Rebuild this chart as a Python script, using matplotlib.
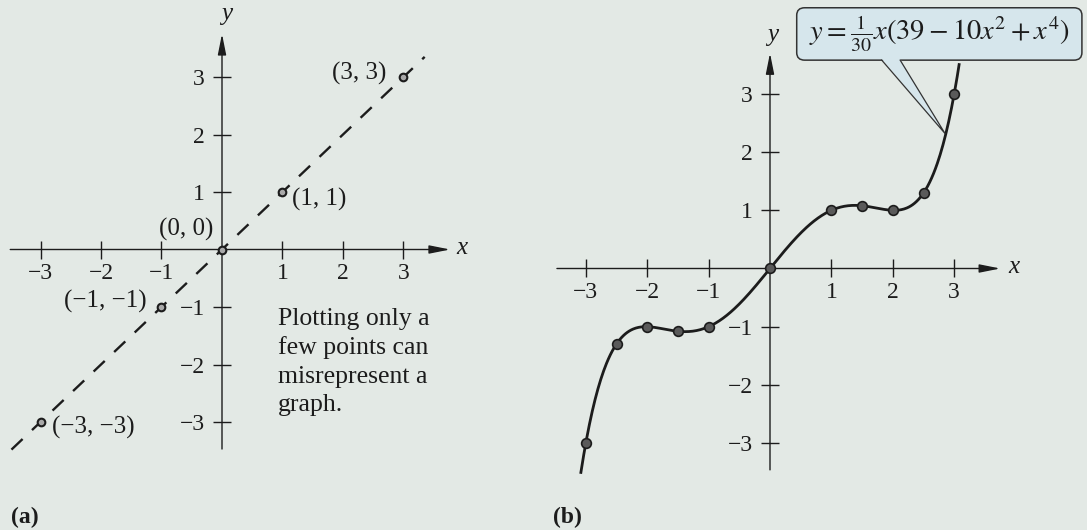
import matplotlib.pyplot as plt
from matplotlib.patches import FancyBboxPatch, Polygon
import numpy as np

# (a) a few isolated points joined by a dashed guess y = x
pts_a_x = [-3, -1, 0, 1, 3]
pts_a_y = [-3, -1, 0, 1, 3]
labels_a = ["(−3, −3)", "(−1, −1)", "(0, 0)", "(1, 1)", "(3, 3)"]
line_a = [-3.48, 3.35]

# (b) more points on y = x(39 - 10x^2 + x^4)/30
pts_b_x = [-3, -2.5, -2, -1.5, -1, 0, 1, 1.5, 2, 2.5, 3]
pts_b_y = [-3, -1.3, -1, -1.08, -1, 0, 1, 1.08, 1, 1.3, 3]
curve_b_span = [-3.08, 3.08]

ticks = [-3, -2, -1, 1, 2, 3]

paper = "#e3e9e5"
ink = "#1c1c1c"
box_blue = "#d6e6ec"

plt.rcParams["font.family"] = "Liberation Serif"
plt.rcParams["mathtext.fontset"] = "stix"

W, H = 1087, 530
fig = plt.figure(figsize=(W / 100, H / 100), dpi=100)
fig.patch.set_facecolor(paper)


def place_axes(ox, oy, ux, uy, xlim, ylim):
    # put the axes so that the origin sits at pixel (ox, oy) from top-left
    left = (ox + xlim[0] * ux) / W
    width = (xlim[1] - xlim[0]) * ux / W
    bottom = (H - oy + ylim[0] * uy) / H
    height = (ylim[1] - ylim[0]) * uy / H
    ax = fig.add_axes([left, bottom, width, height])
    ax.set_xlim(xlim)
    ax.set_ylim(ylim)
    return ax


def draw_axes(ax, x_span, y_span, x_lab, y_lab):
    ax.patch.set_visible(False)
    for s in ax.spines.values():
        s.set_visible(False)
    ax.spines["left"].set_position(("data", 0))
    ax.spines["bottom"].set_position(("data", 0))
    ax.set_xticks(ticks)
    ax.set_yticks(ticks)
    ax.tick_params(direction="inout", length=13, width=1.0, color=ink,
                   labelcolor=ink, labelsize=17)
    ax.tick_params(axis="x", pad=3.5)
    ax.tick_params(axis="y", pad=6)
    arrow = dict(arrowstyle="-|>,head_length=0.9,head_width=0.18", lw=1.0,
                 color=ink, shrinkA=0, shrinkB=0, mutation_scale=14)
    ax.annotate("", xy=(x_span[1], 0), xytext=(x_span[0], 0),
                arrowprops=arrow, annotation_clip=False)
    ax.annotate("", xy=(0, y_span[1]), xytext=(0, y_span[0]),
                arrowprops=arrow, annotation_clip=False)
    ax.text(x_lab[0], x_lab[1], "x", fontsize=18, style="italic", color=ink,
            ha="center", va="center")
    ax.text(y_lab[0], y_lab[1], "y", fontsize=18, style="italic", color=ink,
            ha="center", va="center")


# ---- (a)
ax_a = place_axes(222, 249.5, 60.5, 57.5, (-3.6, 4.3), (-4.6, 4.3))
draw_axes(ax_a, (-3.5, 3.77), (-3.47, 3.75), (3.96, 0.02), (0.08, 4.1))

ax_a.plot(line_a, line_a, color=ink, lw=1.7, dashes=(6.5, 5.5), zorder=3)
ax_a.plot(pts_a_x, pts_a_y, "o", ms=5.5, mfc="#a9a9a9", mec=ink, mew=1.5, zorder=4)

offsets = [(11, -5, "left"), (-15, 6, "right"), (-9, 20, "right"),
           (10, -7, "left"), (-17, 4, "right")]
for x, y, lab, (dx, dy, ha) in zip(pts_a_x, pts_a_y, labels_a, offsets):
    ax_a.annotate(lab, (x, y), xytext=(dx, dy), textcoords="offset pixels",
                  fontsize=18, color=ink, ha=ha, va="center")

ax_a.text(0.93, -1.01, "Plotting only a\nfew points can\nmisrepresent a\ngraph.",
          fontsize=18.5, color=ink, ha="left", va="top", linespacing=1.38)

# ---- (b)
ax_b = place_axes(770, 268.5, 61.4, 58.2, (-3.5, 5.1), (-4.5, 4.6))
draw_axes(ax_b, (-3.47, 3.75), (-3.46, 3.70), (3.97, 0.02), (0.04, 4.01))

xs = np.linspace(curve_b_span[0], curve_b_span[1], 400)
ys = xs * (39 - 10 * xs ** 2 + xs ** 4) / 30
ax_b.plot(xs, ys, color=ink, lw=2.0, zorder=3, clip_on=False)
ax_b.plot(pts_b_x, pts_b_y, "o", ms=7, mfc="#5a5a5a", mec=ink, mew=1.2, zorder=4)

# callout with the equation
box = FancyBboxPatch((0.435, 3.58), 5.08 - 0.435, 4.48 - 3.58,
                     boxstyle="round,pad=0,rounding_size=0.13",
                     fc=box_blue, ec="#333333", lw=1.1, clip_on=False, zorder=5)
ax_b.add_patch(box)
ax_b.add_patch(Polygon([(1.82, 3.60), (2.85, 2.32), (2.12, 3.60)], closed=True,
                       fc=box_blue, ec="none", clip_on=False, zorder=6))
ax_b.plot([1.82, 2.85, 2.12], [3.58, 2.32, 3.58], color="#333333", lw=0.9,
          clip_on=False, zorder=6)
ax_b.text(2.76, 4.03, r"$y=\frac{1}{30}x(39-10x^2+x^4)$", fontsize=20.5,
          color=ink, ha="center", va="center", zorder=7)

fig.text(11 / W, 1 - 517 / H, "(a)", fontsize=17, fontweight="bold", color=ink,
         ha="left", va="center")
fig.text(553 / W, 1 - 517 / H, "(b)", fontsize=17, fontweight="bold", color=ink,
         ha="left", va="center")

fig.savefig("out.png", dpi=100, facecolor=paper)
